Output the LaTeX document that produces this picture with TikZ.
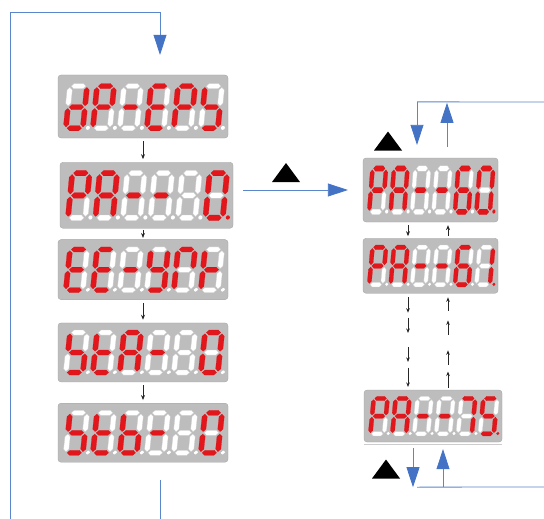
\documentclass[tikz,border=0pt]{standalone}
\usepackage{tikz}
\usetikzlibrary{arrows.meta,positioning,calc}
\definecolor{dispgray}{HTML}{BDBDBD}
\definecolor{segred}{HTML}{E3161B}
\definecolor{keyblue}{HTML}{4472C4}
\definecolor{linkblue}{HTML}{5A86CC}
\newcommand{\hsg}[1]{(1.3,#1) -- (3.9,#1+2.6) -- (13.1,#1+2.6) -- (15.7,#1) -- (13.1,#1-2.6) -- (3.9,#1-2.6) -- cycle}
\newcommand{\vsg}[3]{(#1,#2) -- (#1+2.6,#2+2.6) -- (#1+2.6,#3-2.6) -- (#1,#3) -- (#1-2.6,#3-2.6) -- (#1-2.6,#2+2.6) -- cycle}
\newcommand{\sga}{\hsg{42}}
\newcommand{\sgg}{\hsg{21}}
\newcommand{\sgd}{\hsg{0}}
\newcommand{\sgf}{\vsg{0}{22.3}{40.7}}
\newcommand{\sgb}{\vsg{17}{22.3}{40.7}}
\newcommand{\sge}{\vsg{0}{1.3}{19.7}}
\newcommand{\sgc}{\vsg{17}{1.3}{19.7}}
\newcommand{\sgn}{}
\newcommand{\segdigit}[3]{%
  \begin{scope}[shift={(8+27*#1,10)}, xslant=0.1]
    \foreach \segname in {a,b,c,d,e,f,g} {\path[segoff] \csname sg\segname\endcsname;}
    \foreach \segname in {#2} {\path[segon] \csname sg\segname\endcsname;}
    \path[#3] (22,0.3) circle (2);
  \end{scope}}
\tikzset{
  disp/.style={rectangle, rounded corners=3pt, fill=dispgray, draw=dispgray!85!black,
               line width=0.3pt, inner sep=0pt},
  segoff/.style={fill=white, draw=black!18, line width=0.25pt},
  segon/.style={fill=segred, draw=segred!85!black, line width=0.25pt},
  dpoff/.style={fill=white},
  dpon/.style={fill=segred},
  stepflow/.style={-{Stealth[length=5pt,width=4pt]}, draw=black!85, line width=0.8pt,
                   shorten <=3pt, shorten >=3pt},
  dotflow/.style={-{Stealth[length=4.5pt,width=3.6pt]}, draw=black!85, line width=0.8pt},
  blueline/.style={draw=linkblue, line width=0.8pt},
  blueflow/.style={blueline, -{Triangle[width=13pt,length=20pt,color=keyblue]}},
  keyup/.pic={\fill (-14pt,-9.5pt) -- (0pt,9.5pt) -- (14pt,-9.5pt) -- cycle;}
}
\begin{document}
\begin{tikzpicture}[x=1pt, y=-1pt]
  \path[use as bounding box] (0,0) rectangle (544,519);
  % left column
  \node[disp, minimum width=170pt, minimum height=63pt] (dpeps) at (143,106.5) {};
  \node[disp, minimum width=173pt, minimum height=66pt, below=24pt of dpeps, xshift=3.5pt] (pazero) {};
  \node[disp, minimum width=170pt, minimum height=60pt, below=11pt of pazero, xshift=-3.5pt] (eeyal) {};
  \node[disp, minimum width=170pt, minimum height=59pt, below=23pt of eeyal] (sta) {};
  \node[disp, minimum width=170pt, minimum height=59pt, below=21pt of sta] (stb) {};
  % right column
  \node[disp, minimum width=135pt, minimum height=64pt] (pa60) at (430.5,190) {};
  \node[disp, minimum width=135pt, minimum height=55pt, below=16pt of pa60] (pa61) {};
  \node[disp, minimum width=138pt, minimum height=52pt] (pa75) at (433,416) {};
  \draw[black!20, line width=1pt] ([yshift=-2pt]pa75.south west) -- ([yshift=-2pt]pa75.south east);

  \begin{scope}[shift={(dpeps.south west)}, x=1pt, y=1pt]
    \segdigit{0}{b,c,d,e,g}{dpoff}
    \segdigit{1}{a,b,e,f,g}{dpoff}
    \segdigit{2}{g}{dpoff}
    \segdigit{3}{a,d,e,f,g}{dpoff}
    \segdigit{4}{a,b,e,f,g}{dpoff}
    \segdigit{5}{c,d,f,g}{dpoff}
  \end{scope}
  \begin{scope}[shift={(pazero.south west)}, x=1pt, y=1pt, xscale=1.018, yscale=1.065]
    \segdigit{0}{a,b,e,f,g}{dpoff}
    \segdigit{1}{a,b,c,e,f,g}{dpoff}
    \segdigit{2}{g}{dpoff}
    \segdigit{3}{g}{dpoff}
    \segdigit{4}{n}{dpoff}
    \segdigit{5}{a,b,c,d,e,f}{dpon}
  \end{scope}
  \begin{scope}[shift={(eeyal.south west)}, x=1pt, y=1pt, yscale=0.968]
    \segdigit{0}{a,d,e,f,g}{dpoff}
    \segdigit{1}{a,d,e,f,g}{dpoff}
    \segdigit{2}{g}{dpoff}
    \segdigit{3}{b,c,d,f,g}{dpoff}
    \segdigit{4}{a,b,e,f}{dpoff}
    \segdigit{5}{e,f,g}{dpoff}
  \end{scope}
  \begin{scope}[shift={(sta.south west)}, x=1pt, y=1pt, yscale=0.952]
    \segdigit{0}{c,d,f,g}{dpoff}
    \segdigit{1}{d,e,f,g}{dpoff}
    \segdigit{2}{a,b,c,e,f,g}{dpoff}
    \segdigit{3}{g}{dpoff}
    \segdigit{4}{n}{dpoff}
    \segdigit{5}{a,b,c,d,e,f}{dpoff}
  \end{scope}
  \begin{scope}[shift={(stb.south west)}, x=1pt, y=1pt, yscale=0.952]
    \segdigit{0}{c,d,f,g}{dpoff}
    \segdigit{1}{d,e,f,g}{dpoff}
    \segdigit{2}{c,d,e,f,g}{dpoff}
    \segdigit{3}{g}{dpoff}
    \segdigit{4}{n}{dpoff}
    \segdigit{5}{a,b,c,d,e,f}{dpoff}
  \end{scope}
  \begin{scope}[shift={(pa60.south west)}, x=1pt, y=1pt, xscale=0.794, yscale=1.032]
    \segdigit{0}{a,b,e,f,g}{dpoff}
    \segdigit{1}{a,b,c,e,f,g}{dpoff}
    \segdigit{2}{g}{dpoff}
    \segdigit{3}{g}{dpoff}
    \segdigit{4}{a,c,d,e,f,g}{dpoff}
    \segdigit{5}{a,b,c,d,e,f}{dpon}
  \end{scope}
  \begin{scope}[shift={(pa61.south west)}, x=1pt, y=1pt, xscale=0.794, yscale=0.887]
    \segdigit{0}{a,b,e,f,g}{dpoff}
    \segdigit{1}{a,b,c,e,f,g}{dpoff}
    \segdigit{2}{g}{dpoff}
    \segdigit{3}{g}{dpoff}
    \segdigit{4}{a,c,d,e,f,g}{dpoff}
    \segdigit{5}{b,c}{dpon}
  \end{scope}
  \begin{scope}[shift={(pa75.south west)}, x=1pt, y=1pt, xscale=0.812, yscale=0.839]
    \segdigit{0}{a,b,e,f,g}{dpoff}
    \segdigit{1}{a,b,c,e,f,g}{dpoff}
    \segdigit{2}{g}{dpoff}
    \segdigit{3}{g}{dpoff}
    \segdigit{4}{a,b,c}{dpoff}
    \segdigit{5}{a,c,d,f,g}{dpon}
  \end{scope}

  % steps
  \draw[stepflow] (dpeps.south) -- (dpeps.south |- pazero.north);
  \draw[stepflow, shorten <=2pt, shorten >=1.5pt] (eeyal.north |- pazero.south) -- (eeyal.north);
  \draw[stepflow] (eeyal.south) -- (eeyal.south |- sta.north);
  \draw[stepflow] (sta.south) -- (sta.south |- stb.north);
  \coordinate (dn1) at ([xshift=-22.5pt]pa60.south);
  \coordinate (up1) at ([xshift=17.5pt]pa60.south);
  \draw[stepflow, shorten <=3pt, shorten >=2pt] (dn1) -- (dn1 |- pa61.north);
  \draw[stepflow, shorten <=2pt, shorten >=3pt] (up1 |- pa61.north) -- (up1);
  \coordinate (dn2) at ([xshift=-22.5pt]pa61.south);
  \coordinate (up2) at ([xshift=17.5pt]pa61.south);
  \foreach \f/\g in {0.04/0.2, 0.25/0.41, 0.56/0.71, 0.77/0.97}
    \draw[dotflow] ($(dn2)!\f!(dn2 |- pa75.north)$) -- ($(dn2)!\g!(dn2 |- pa75.north)$);
  \foreach \f/\g in {0.02/0.19, 0.26/0.41, 0.57/0.72, 0.82/0.96}
    \draw[dotflow] ($(up2 |- pa75.north)!\f!(up2)$) -- ($(up2 |- pa75.north)!\g!(up2)$);

  % keys
  \pic (keymid) at (286,172.5) {keyup};
  \pic (keytop) at (388,141) {keyup};
  \pic (keybot) at (386,469) {keyup};
  \draw[blueflow, shorten <=10pt, shorten >=15pt] (pazero.east |- pa60.west) -- (pa60.west);

  % loop on the left
  \coordinate (loopA) at ([xshift=17pt, yshift=-18pt]stb.south);
  \coordinate (loopC) at (10,519);
  \coordinate (loopD) at (10,12);
  \coordinate (loopIn) at ([xshift=17pt, yshift=20pt]dpeps.north);
  \draw[blueline] (loopA) -- (loopA |- loopC);
  \draw[blueflow] (loopC) -- (loopD) -- (loopA |- loopD) -- (loopIn);

  % loop above pa60
  \coordinate (topL) at ([xshift=-13.5pt, yshift=56pt]pa60.north);
  \coordinate (inT) at ([xshift=-13.5pt, yshift=13pt]pa60.north);
  \coordinate (outT) at ([xshift=16.5pt, yshift=11pt]pa60.north);
  \coordinate (edgeT) at (544,102);
  \draw[blueline] (edgeT) -- (topL);
  \draw[blueflow] (topL) -- (inT);
  \draw[blueflow, shorten >=1pt] (outT) -- (outT |- topL);

  % loop below pa75
  \coordinate (outB) at ([xshift=-20pt, yshift=-6pt]pa75.south);
  \coordinate (busB) at ([xshift=-16pt, yshift=-45pt]pa75.south);
  \coordinate (inB) at ([xshift=10pt, yshift=-45pt]pa75.south);
  \coordinate (edgeB) at (544,487);
  \draw[blueflow] (outB) -- (busB -| outB);
  \draw[blueline] (busB) -- (edgeB);
  \draw[blueflow] (inB) -- ([xshift=10pt, yshift=-7pt]pa75.south);
\end{tikzpicture}
\end{document}
